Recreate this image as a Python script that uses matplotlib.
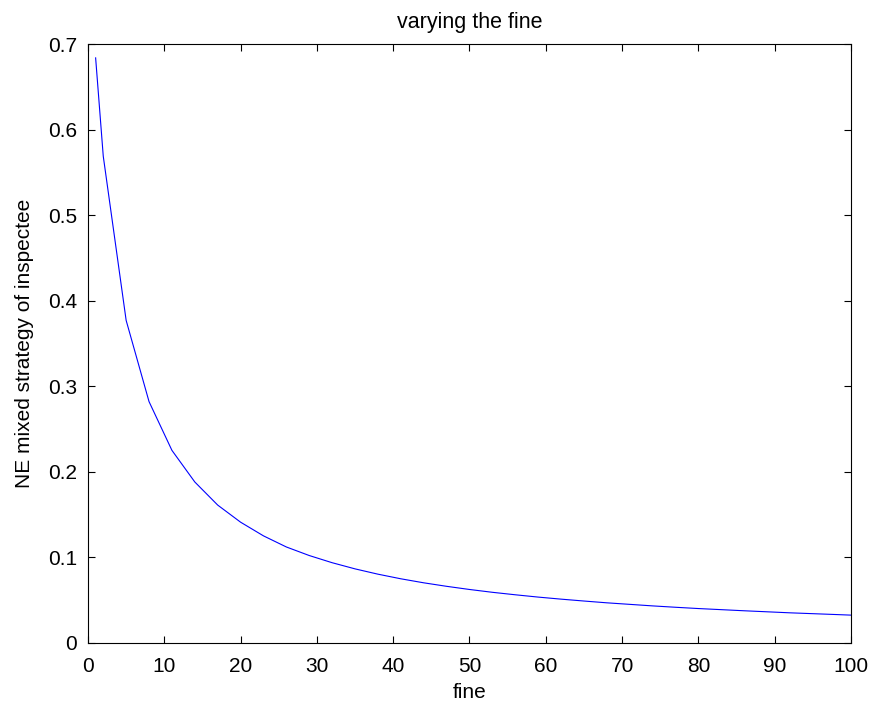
import matplotlib.pyplot as plt

# values
fine = [1, 2, 5, 8, 11, 14, 17, 20, 23, 26, 29, 32, 35, 38, 41, 44, 47, 50,
        53, 56, 59, 62, 65, 68, 71, 74, 77, 80, 83, 86, 89, 92, 95, 98, 100]
ne_prob = [0.684, 0.569, 0.377, 0.282, 0.225, 0.188, 0.161, 0.141, 0.125,
           0.112, 0.102, 0.0936, 0.0864, 0.0802, 0.0748, 0.0701, 0.0660,
           0.0623, 0.0590, 0.0561, 0.0534, 0.0510, 0.0488, 0.0467, 0.0449,
           0.0431, 0.0415, 0.0400, 0.0387, 0.0374, 0.0362, 0.0350, 0.0340,
           0.0330, 0.0323]

x_ticks = list(range(0, 101, 10))
y_ticks = [0, 0.1, 0.2, 0.3, 0.4, 0.5, 0.6, 0.7]
y_tick_labels = ['0', '0.1', '0.2', '0.3', '0.4', '0.5', '0.6', '0.7']

plt.rcParams['font.family'] = ['Liberation Sans', 'DejaVu Sans']

fig = plt.figure(figsize=(8.8, 7.05), dpi=100)
ax = fig.add_axes([0.1, 0.0883, 0.867, 0.849])
ax.plot(fine, ne_prob, color='#0000ff', linewidth=0.8)

ax.set_xlim(0, 100)
ax.set_ylim(0, 0.7)
ax.set_xticks(x_ticks)
ax.set_xticklabels([str(t) for t in x_ticks])
ax.set_yticks(y_ticks)
ax.set_yticklabels(y_tick_labels)
ax.tick_params(direction='in', top=True, right=True, length=5, width=0.8,
               labelsize=15)
ax.tick_params(axis='x', pad=10)
ax.tick_params(axis='y', pad=8)
for sp in ax.spines.values():
    sp.set_linewidth(0.8)

ax.set_title('varying the fine', fontsize=15.5, pad=12)
ax.set_xlabel('fine', fontsize=15, labelpad=5)
ax.set_ylabel('NE mixed strategy of inspectee', fontsize=15, labelpad=10)

plt.savefig('out.png', dpi=100)
